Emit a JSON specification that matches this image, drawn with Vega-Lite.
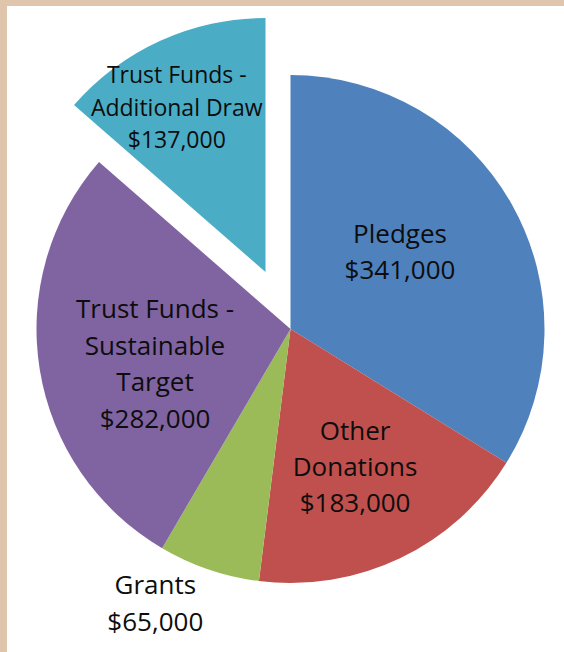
{
  "$schema": "https://vega.github.io/schema/vega-lite/v6.json",
  "autosize": {"type": "none"},
  "width": 557,
  "height": 646,
  "padding": {"left": 7, "top": 6, "right": 0, "bottom": 0},
  "background": "#DEC5AC",
  "view": {"fill": "white", "stroke": null},
  "data": {
    "values": [
      {"idx": 1, "category": "Pledges", "value": 341000, "label": "Pledges\n$341,000"},
      {"idx": 2, "category": "Other Donations", "value": 183000, "label": "Other\nDonations\n$183,000"},
      {"idx": 3, "category": "Grants", "value": 65000, "label": "Grants\n$65,000"},
      {"idx": 4, "category": "Trust Funds - Sustainable Target", "value": 282000, "label": "Trust Funds -\nSustainable\nTarget\n$282,000"},
      {"idx": 5, "category": "Trust Funds - Additional Draw", "value": 137000, "label": "Trust Funds -\nAdditional Draw\n$137,000"}
    ]
  },
  "encoding": {
    "theta": {"field": "value", "type": "quantitative", "stack": true},
    "order": {"field": "idx", "type": "quantitative"}
  },
  "layer": [
    {
      "mark": {"type": "arc", "radius": 254, "xOffset": 5},
      "encoding": {
        "color": {
          "field": "category", "type": "nominal", "legend": null,
          "scale": {
            "domain": ["Pledges", "Other Donations", "Grants", "Trust Funds - Sustainable Target", "Trust Funds - Additional Draw"],
            "range": ["#4F81BD", "#C0504D", "#9BBB59", "#8064A2", "#4BACC6"]
          }
        },
        "opacity": {"condition": {"test": "datum.category === 'Trust Funds - Additional Draw'", "value": 0}, "value": 1}
      }
    },
    {
      "mark": {"type": "arc", "radius": 254, "xOffset": -20, "yOffset": -57},
      "encoding": {
        "color": {"field": "category", "type": "nominal", "legend": null},
        "opacity": {"condition": {"test": "datum.category === 'Trust Funds - Additional Draw'", "value": 1}, "value": 0}
      }
    },
    {
      "mark": {"type": "text", "radius": 133, "dx": -1.7, "dy": -29.5, "font": "Open Sans", "fontSize": 26, "lineHeight": 36.5, "lineBreak": "\n", "align": "center", "baseline": "middle", "color": "#0D0D0D"},
      "encoding": {"text": {"condition": {"test": "datum.category === 'Pledges'", "field": "label"}, "value": ""}}
    },
    {
      "mark": {"type": "text", "radius": 154, "dx": 3.2, "dy": -35.5, "font": "Open Sans", "fontSize": 26, "lineHeight": 36, "lineBreak": "\n", "align": "center", "baseline": "middle", "color": "#0D0D0D"},
      "encoding": {"text": {"condition": {"test": "datum.category === 'Other Donations'", "field": "label"}, "value": ""}}
    },
    {
      "mark": {"type": "text", "radius": 307, "dx": -31.5, "dy": -33.5, "font": "Open Sans", "fontSize": 26, "lineHeight": 37, "lineBreak": "\n", "align": "center", "baseline": "middle", "color": "#0D0D0D"},
      "encoding": {"text": {"condition": {"test": "datum.category === 'Grants'", "field": "label"}, "value": ""}}
    },
    {
      "mark": {"type": "text", "radius": 140, "dx": 7.7, "dy": -41.5, "font": "Open Sans", "fontSize": 26, "lineHeight": 36.7, "lineBreak": "\n", "align": "center", "baseline": "middle", "color": "#0D0D0D"},
      "encoding": {"text": {"condition": {"test": "datum.category === 'Trust Funds - Sustainable Target'", "field": "label"}, "value": ""}}
    },
    {
      "mark": {"type": "text", "radius": 186, "dx": -31.7, "dy": -83.5, "font": "Open Sans", "fontSize": 23, "lineHeight": 32.5, "lineBreak": "\n", "align": "center", "baseline": "middle", "color": "#0D0D0D"},
      "encoding": {"text": {"condition": {"test": "datum.category === 'Trust Funds - Additional Draw'", "field": "label"}, "value": ""}}
    }
  ]
}
